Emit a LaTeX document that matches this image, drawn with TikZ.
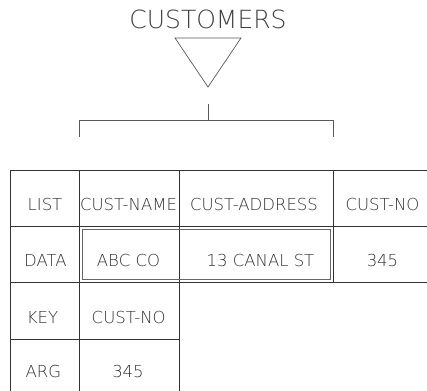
\documentclass[tikz,border=0pt]{standalone}
\usepackage{fontspec}
\setmainfont{DejaVu Sans ExtraLight}
\begin{document}
\begin{tikzpicture}[x=1bp,y=-1bp,
  gridline/.style={draw=black!80, line width=0.7bp},
  shapeline/.style={draw=black!65, line width=0.7bp},
  cell/.style={text=black!80, font=\fontsize{16.5bp}{18bp}\selectfont, inner sep=0pt, anchor=center},
  titletext/.style={text=black!75, font=\fontsize{25bp}{28bp}\selectfont, inner sep=0pt, anchor=center},
]
\useasboundingbox (0,0) rectangle (427,391);
% title and triangle
\node[titletext] (title) at (208,19) {CUSTOMERS};
\coordinate (tl) at (175,38);
\coordinate (tr) at (241,38);
\coordinate (tb) at (208,87);
\draw[shapeline] (tl) -- (tr) -- (tb) -- cycle;
% connector bracket
\coordinate (stem) at (208,104);
\coordinate (join) at (208,120);
\coordinate (brl) at (79.5,120);
\coordinate (brr) at (333.3,120);
\coordinate (brlb) at (79.5,137);
\coordinate (brrb) at (333.3,137);
\draw[shapeline] (stem) -- (join);
\draw[shapeline] (brlb) -- (brl) -- (brr) -- (brrb);
% table grid
\draw[gridline] (10.3,170) -- (427,170);
\draw[gridline] (10.3,226.7) -- (427,226.7);
\draw[gridline] (10.3,282.7) -- (427,282.7);
\draw[gridline] (10.3,339) -- (179,339);
\draw[gridline] (10.3,170) -- (10.3,391);
\draw[gridline] (79.5,170) -- (79.5,391);
\draw[gridline] (179,170) -- (179,391);
\draw[gridline] (333.3,170) -- (333.3,282.7);
% inner box
\draw[draw=black!60, line width=1.1bp] (82.7,229.5) rectangle (330.7,279.5);
% texts
\node[cell] (list) at (45,204) {LIST};
\node[cell] (cname) at (128.5,204) {CUST-NAME};
\node[cell] (caddr) at (254,204) {CUST-ADDRESS};
\node[cell] (cno) at (382.5,204) {CUST-NO};
\node[cell] (data) at (45.5,260) {DATA};
\node[cell] (abc) at (128.5,260) {ABC CO};
\node[cell] (canal) at (260.5,260) {13 CANAL ST};
\node[cell] (dno) at (382.5,260) {345};
\node[cell] (key) at (42.5,317) {KEY};
\node[cell] (kno) at (128.7,317) {CUST-NO};
\node[cell] (arg) at (43.3,371) {ARG};
\node[cell] (ano) at (128,371) {345};
\end{tikzpicture}
\end{document}
